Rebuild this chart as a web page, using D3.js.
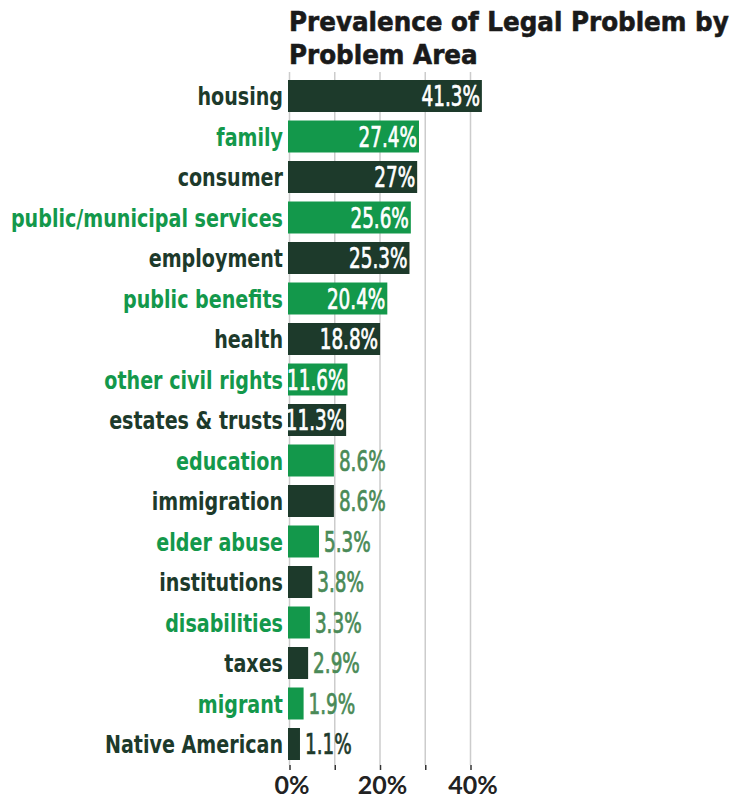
<!DOCTYPE html>
<html>
<head>
<meta charset="utf-8">
<script src="https://cdn.jsdelivr.net/npm/d3@7"></script>
<style>
  html, body { margin: 0; padding: 0; background: #fff; }
  svg { display: block; }
</style>
</head>
<body>
<div id="chart"></div>
<script>
const categories = ["housing","family","consumer","public/municipal services","employment","public benefits","health","other civil rights","estates & trusts","education","immigration","elder abuse","institutions","disabilities","taxes","migrant","Native American"];
const values = [41.3,27.4,27,25.6,25.3,20.4,18.8,11.6,11.3,8.6,8.6,5.3,3.8,3.3,2.9,1.9,1.1];
const tickValues = [0,10,20,30,40];
const tickLabels = ["0%","","20%","","40%"];
const titleLines = ["Prevalence of Legal Problem by","Problem Area"];

const DARK = "#1d3a2b", GREEN = "#13984b", OUT = "#4a8a57";
const W = 734, H = 800;
const LABEL_SX = 0.85, VALUE_SX = 0.73, TITLE_W = 440, INSIDE_MIN = 10;
const svg = d3.select("#chart").append("svg").attr("width", W).attr("height", H);

const x = d3.scaleLinear().domain([0, 40]).range([289.5, 470.5]);
const y = d3.scaleBand().domain(categories).range([75.75, 764.25]).paddingInner(0.21).paddingOuter(0.105);
const color = (i) => i % 2 === 0 ? DARK : GREEN;

// title
const titles = svg.append("g").selectAll("text").data(titleLines).join("text")
  .attr("font-family", "'DejaVu Sans', sans-serif").attr("font-weight", 700)
  .attr("font-size", 26).attr("fill", "#1a1a1a")
  .attr("stroke", "#1a1a1a").attr("stroke-width", 0.6)
  .text(d => d);
const tw = titles.nodes()[0].getComputedTextLength();
const tsx = Math.min(1, TITLE_W / tw);
titles.attr("transform", (d,i) => `translate(289,${31 + i*33}) scale(${tsx},1)`);

// gridlines
svg.append("g").selectAll("line").data(tickValues).join("line")
  .attr("x1", d => x(d)).attr("x2", d => x(d)).attr("y1", 72).attr("y2", 765)
  .attr("stroke", "#cccccc").attr("stroke-width", 1.5);

// axis
const axis = d3.axisBottom(x).tickValues(tickValues).tickSize(5).tickFormat((d,i) => tickLabels[i]);
const gAxis = svg.append("g").attr("transform", "translate(0,765)").call(axis);
gAxis.select(".domain").remove();
gAxis.selectAll(".tick line").attr("stroke", "#333").attr("stroke-width", 1.5);
gAxis.selectAll(".tick text").attr("font-family", "Lato, sans-serif").attr("font-weight", 700)
  .attr("font-size", 25).attr("fill", "#222").attr("dy", 0).attr("y", 29).attr("dx", 2);

// bars
const data = categories.map((c, i) => ({c, v: values[i], i}));
svg.append("g").selectAll("rect").data(data).join("rect")
  .attr("x", x(0) - 1.5).attr("y", d => y(d.c))
  .attr("width", d => x(d.v) + 5.5 - (x(0) - 1.5)).attr("height", y.bandwidth())
  .attr("fill", d => color(d.i));

// category labels
svg.append("g").selectAll("text").data(data).join("text")
  .attr("transform", d => `translate(283,${y(d.c) + y.bandwidth()/2 + 9}) scale(${LABEL_SX},1)`)
  .attr("text-anchor", "end")
  .attr("font-family", "'DejaVu Sans Condensed', 'DejaVu Sans', sans-serif")
  .attr("font-weight", 700).attr("font-size", 25)
  .attr("fill", d => color(d.i)).text(d => d.c);

// value labels
const vl = svg.append("g").selectAll("text").data(data).join("text")
  .attr("font-family", "'DejaVu Sans Condensed', 'DejaVu Sans', sans-serif")
  .attr("font-weight", 400).attr("font-size", 28)
  .attr("stroke-width", 0.7)
  .text(d => d.v + "%");
vl.each(function(d) {
  const t = d3.select(this);
  const barEnd = x(d.v) + 5.5;
  const yy = y(d.c) + y.bandwidth()/2 + 10;
  if (d.v >= INSIDE_MIN) {
    t.attr("transform", `translate(${barEnd - 2},${yy}) scale(${VALUE_SX},1)`)
      .attr("text-anchor", "end").attr("fill", "#fff").attr("stroke", "#fff");
  } else {
    const c = d.i === categories.length - 1 ? DARK : OUT;
    t.attr("transform", `translate(${barEnd + 5},${yy}) scale(${VALUE_SX},1)`)
      .attr("text-anchor", "start").attr("fill", c).attr("stroke", c);
  }
});
</script>
</body>
</html>
